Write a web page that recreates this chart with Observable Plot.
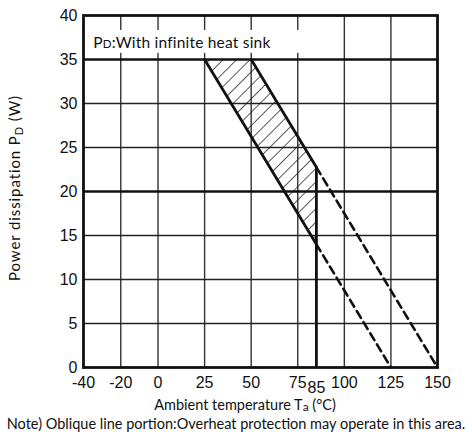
<!DOCTYPE html>
<html><head><meta charset="utf-8">
<script src="https://cdn.jsdelivr.net/npm/d3@7"></script>
<script src="https://cdn.jsdelivr.net/npm/@observablehq/plot@0.6"></script>
<style>body{margin:0;background:#fff}</style>
</head><body><div id="chart"></div>
<script>
// ---- data ----
const xTicks = [-40, -20, 0, 25, 50, 75, 100, 125, 150];
const xTickExtra = [85];
const yTicks = [0, 5, 10, 15, 20, 25, 30, 35, 40];
const xGrid = [-20, 0, 25, 50, 75, 100, 125];
const yGridThin = [5, 10, 15, 25, 30];
const yGridThick = [20, 35];

const lowerSolidT = [25, 85];
const lowerSolidP = [35, 14];
const upperSolidT = [50, 85];
const upperSolidP = [35, 22.75];
const lowerDashT = [85, 125];
const lowerDashP = [14, 0];
const upperDashT = [85, 150];
const upperDashP = [22.75, 0];
const cutoffT = 85;
const cutoffP = [0, 22.75];

const hatchT = [25, 50, 85];
const hatchLow = [35, 26.25, 14];
const hatchHigh = [35, 35, 22.75];

const labelBoxT = [-38.5, 78];
const labelBoxP = [35.7, 38.3];

const toPts = (xs, ys) => xs.map((x, i) => ({x, y: ys[i]}));
const hatchData = hatchT.map((x, i) => ({x, y1: hatchLow[i], y2: hatchHigh[i]}));

const sansLabel = "Lato, 'Noto Sans', sans-serif";

const plot = Plot.plot({
  width: 472,
  height: 441,
  marginLeft: 83,
  marginRight: 35,
  marginTop: 15,
  marginBottom: 74,
  style: {fontFamily: "'Liberation Sans', Arial, sans-serif", fontSize: "16px", background: "#fff", color: "#111"},
  x: {domain: [-40, 150]},
  y: {domain: [0, 40]},
  marks: [
    Plot.ruleX(xGrid, {stroke: "#333", strokeWidth: 1.4}),
    Plot.ruleY(yGridThin, {stroke: "#222", strokeWidth: 1.5}),
    Plot.ruleY(yGridThick, {stroke: "#111", strokeWidth: 2.4}),
    Plot.rect([{x1: labelBoxT[0], x2: labelBoxT[1], y1: labelBoxP[0], y2: labelBoxP[1]}], {x1: "x1", x2: "x2", y1: "y1", y2: "y2", fill: "#fff"}),
    Plot.areaY(hatchData, {x: "x", y1: "y1", y2: "y2", fill: "url(#hatch)", curve: "linear"}),
    Plot.line(toPts(lowerSolidT, lowerSolidP), {x: "x", y: "y", stroke: "#111", strokeWidth: 2.8}),
    Plot.line(toPts(upperSolidT, upperSolidP), {x: "x", y: "y", stroke: "#111", strokeWidth: 2.8}),
    Plot.line(toPts(lowerDashT, lowerDashP), {x: "x", y: "y", stroke: "#111", strokeWidth: 2.6, strokeDasharray: "8,5"}),
    Plot.line(toPts(upperDashT, upperDashP), {x: "x", y: "y", stroke: "#111", strokeWidth: 2.6, strokeDasharray: "8,5"}),
    Plot.ruleX([cutoffT], {y1: cutoffP[0], y2: cutoffP[1], stroke: "#111", strokeWidth: 2.8}),
    Plot.frame({stroke: "#111", strokeWidth: 2.8}),
    Plot.axisX(xTicks, {tickSize: 0, tickPadding: 9, tickFormat: d => String(d), label: null, fontSize: 16}),
    Plot.axisX(xTickExtra, {tickSize: 0, tickPadding: 14, tickFormat: d => String(d), label: null, fontSize: 16}),
    Plot.axisY(yTicks, {tickSize: 0, tickPadding: 6, tickFormat: d => String(d), label: null, fontSize: 16})
  ]
});

document.getElementById("chart").appendChild(plot);

const svg = d3.select(plot);
const sx = plot.scale("x"), sy = plot.scale("y");

const pat = svg.insert("defs", ":first-child").append("pattern")
  .attr("id", "hatch").attr("patternUnits", "userSpaceOnUse")
  .attr("width", 9.5).attr("height", 9.5).attr("patternTransform", "rotate(45)");
pat.append("line").attr("x1", 0).attr("y1", -1).attr("x2", 0).attr("y2", 11)
  .attr("stroke", "#111").attr("stroke-width", 1.4);

// annotation inside plot
const t1 = svg.append("text")
  .attr("x", sx.apply(-34.5)).attr("y", sy.apply(36.3)).attr("text-anchor", "start")
  .attr("font-family", sansLabel).attr("font-size", 15.5).attr("letter-spacing", 0.2).attr("fill", "#111");
t1.append("tspan").text("P");
t1.append("tspan").attr("font-size", 11.5).text("D");
t1.append("tspan").text(":With infinite heat sink");

// y label
const yl = svg.append("text")
  .attr("transform", "translate(20,188) rotate(-90)")
  .attr("text-anchor", "middle")
  .attr("font-family", sansLabel).attr("font-size", 15).attr("letter-spacing", 0.9).attr("fill", "#111");
yl.append("tspan").text("Power dissipation P");
yl.append("tspan").attr("font-size", 11).attr("dy", 3).text("D");
yl.append("tspan").attr("dy", -3).text(" (W)");

// x label
const xl = svg.append("text")
  .attr("x", 245).attr("y", 409.5).attr("text-anchor", "middle")
  .attr("font-family", sansLabel).attr("font-size", 14.5).attr("fill", "#111");
xl.append("tspan").text("Ambient temperature T");
xl.append("tspan").attr("font-size", 12).attr("dy", 1.5).text("a");
xl.append("tspan").attr("dy", -1.5).text(" (°C)");

// note
svg.append("text")
  .attr("x", 236).attr("y", 428.5).attr("text-anchor", "middle")
  .attr("font-family", sansLabel).attr("font-size", 14.5).attr("fill", "#111")
  .text("Note) Oblique line portion:Overheat protection may operate in this area.");
</script>
</body></html>
